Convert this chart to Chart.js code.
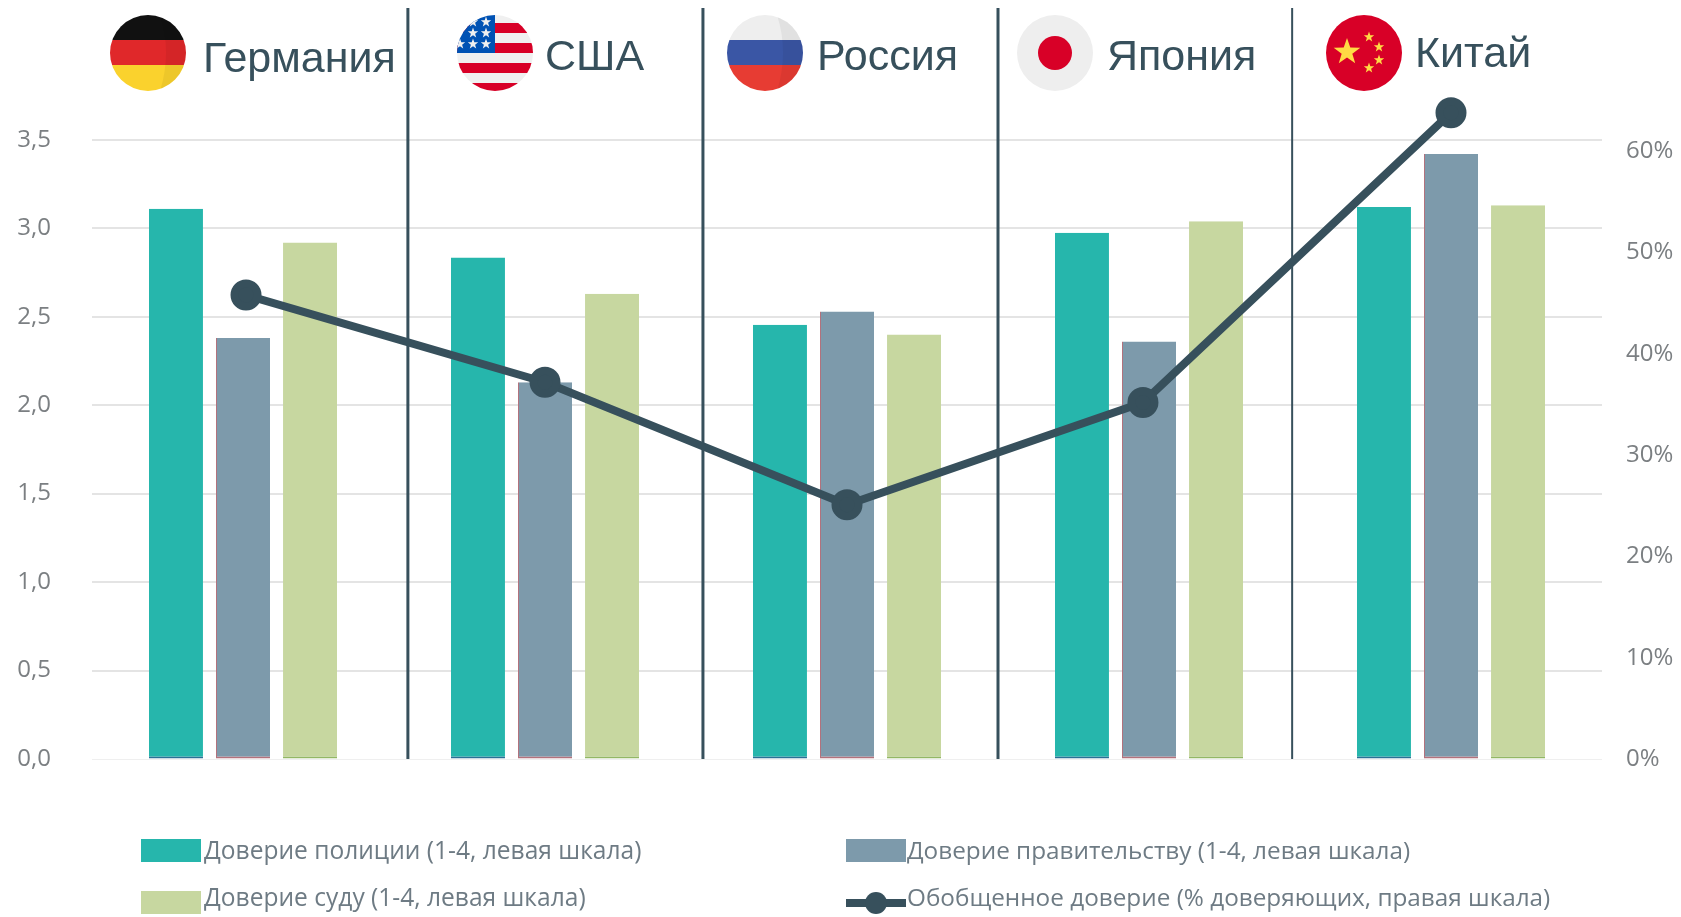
<!DOCTYPE html>
<html lang="ru">
<head>
<meta charset="utf-8">
<title>Доверие</title>
<script src="https://cdn.jsdelivr.net/npm/chart.js@4/dist/chart.umd.min.js"></script>
<style>
  html, body { margin: 0; background: #fff; overflow: hidden; }
  #wrap { position: relative; width: 1681px; height: 917px; }
  #chart { position: absolute; left: 0; top: 0; }
  .flag { position: absolute; top: 15px; width: 76px; height: 76px; }
  .country { position: absolute; font: 43px/48px "Liberation Sans", sans-serif; color: #37505c; white-space: nowrap; }
  .swatch { position: absolute; width: 60px; }
  .legend-text { position: absolute; font: 24.3px/34px "Open Sans", sans-serif; color: #6e7b84; white-space: nowrap; }
</style>
</head>
<body>
<div id="wrap">
  <canvas id="chart" width="1681" height="917"></canvas>
</div>
<script>
var categories = ['Германия', 'США', 'Россия', 'Япония', 'Китай'];
var policeTrust = [3.11, 2.835, 2.455, 2.975, 3.12];
var governmentTrust = [2.38, 2.13, 2.53, 2.36, 3.42];
var courtTrust = [2.92, 2.63, 2.40, 3.04, 3.13];
var generalTrust = [45.8, 37.2, 25.1, 35.2, 63.8];
// the line markers and the dividers do not sit exactly on the category centres
var generalTrustX = [0.01, 1.0, 2.0, 2.98, 4.0];
var dividerX = [0.546, 1.523, 2.5, 3.474];
var dividerWidths = [3, 3, 3, 2];
var dividerTop = 4.245; // in left axis units, the dividers run up past the plot area
var leftTicks = [0, 0.5, 1, 1.5, 2, 2.5, 3, 3.5];
var rightTicks = [0, 10, 20, 30, 40, 50, 60];

var legendLabels = [
  'Доверие полиции (1-4, левая шкала)',
  'Доверие правительству (1-4, левая шкала)',
  'Доверие суду (1-4, левая шкала)',
  'Обобщенное доверие (% доверяющих, правая шкала)'
];

var TEAL = '#26b6ac';
var SLATE = '#7d9aab';
var GREEN = '#c7d7a0';
var DARK = '#37505c';
var TICK = '#7b7f82';

// newer 4.x halves the bar groups when a line sits on a second value axis
Chart.BarController.prototype._getAxisCount = function() { return 1; };

var dividers = {
  id: 'dividers',
  beforeDatasetsDraw: function(chart) {
    var ctx = chart.ctx;
    var scale = chart.scales.xLine;
    var y = chart.scales.y;
    ctx.save();
    ctx.strokeStyle = DARK;
    dividerX.forEach(function(v, i) {
      ctx.lineWidth = dividerWidths[i];
      ctx.beginPath();
      ctx.moveTo(scale.getPixelForValue(v), y.getPixelForValue(dividerTop));
      ctx.lineTo(scale.getPixelForValue(v), y.getPixelForValue(0));
      ctx.stroke();
    });
    ctx.restore();
  }
};

function barSet(label, values, color, edge, leftEdge) {
  return {
    type: 'bar',
    label: label,
    data: values,
    backgroundColor: color,
    borderColor: edge,
    borderWidth: { top: 0, left: leftEdge, right: 0, bottom: 2 },
    borderSkipped: false,
    xAxisID: 'x',
    yAxisID: 'y',
    categoryPercentage: 0.666,
    barPercentage: 0.806,
    order: 2
  };
}

new Chart(document.getElementById('chart').getContext('2d'), {
  data: {
    labels: categories,
    datasets: [
      barSet(legendLabels[0], policeTrust, TEAL, '#2a7096', 0),
      barSet(legendLabels[1], governmentTrust, SLATE, '#b4727c', 1),
      barSet(legendLabels[2], courtTrust, GREEN, '#93b765', 0),
      {
        type: 'line',
        label: legendLabels[3],
        data: generalTrust.map(function(v, i) { return { x: generalTrustX[i], y: v }; }),
        borderColor: DARK,
        backgroundColor: DARK,
        borderWidth: 8,
        pointRadius: 11.5,
        pointHoverRadius: 11.5,
        tension: 0,
        xAxisID: 'xLine',
        yAxisID: 'yRight',
        order: 1
      }
    ]
  },
  options: {
    responsive: false,
    animation: false,
    layout: { padding: { top: 40, bottom: 158 } },
    plugins: { legend: { display: false }, title: { display: false }, tooltip: { enabled: false } },
    scales: {
      x: { display: false, offset: true, grid: { display: false } },
      xLine: { type: 'linear', display: false, min: -0.5, max: 4.5 },
      y: {
        position: 'left',
        min: 0,
        max: 4.0645,
        border: { display: false },
        afterFit: function(scale) { scale.width = 92; },
        afterBuildTicks: function(scale) {
          scale.ticks = leftTicks.map(function(v) { return { value: v }; });
        },
        grid: {
          tickLength: 41,
          tickColor: 'transparent',
          color: function(c) { return c.tick.value === 0 ? '#efefef' : '#e4e4e4'; },
          lineWidth: function(c) { return c.tick.value === 0 ? 1 : 2; }
        },
        ticks: {
          padding: 0,
          color: TICK,
          font: { family: '"Open Sans", sans-serif', size: 24 },
          callback: function(v) { return v.toFixed(1).replace('.', ','); }
        }
      },
      yRight: {
        position: 'right',
        min: 0,
        max: 70.98,
        border: { display: false },
        afterFit: function(scale) { scale.width = 79; },
        afterBuildTicks: function(scale) {
          scale.ticks = rightTicks.map(function(v) { return { value: v }; });
        },
        grid: { drawOnChartArea: false, tickLength: 24, tickColor: 'transparent' },
        ticks: {
          padding: 0,
          color: TICK,
          font: { family: '"Open Sans", sans-serif', size: 24 },
          callback: function(v) { return v + '%'; }
        }
      }
    }
  },
  plugins: [dividers]
});

// flags and country names
function star(cx, cy, r, fill) {
  var pts = [];
  for (var i = 0; i < 10; i++) {
    var a = -Math.PI / 2 + i * Math.PI / 5;
    var d = i % 2 ? r * 0.4 : r;
    pts.push((cx + d * Math.cos(a)).toFixed(2) + ',' + (cy + d * Math.sin(a)).toFixed(2));
  }
  return '<polygon points="' + pts.join(' ') + '" fill="' + fill + '"/>';
}

function rect(y, h, fill) {
  return '<rect x="0" y="' + y + '" width="76" height="' + h + '" fill="' + fill + '"/>';
}

var shade = '<path d="M50 0 C58 25 58 50 50 76 L76 76 L76 0 Z" fill="#000" opacity="0.05"/>';

var usaStars = [[16, 7], [29, 7], [16, 18], [29, 18], [3, 29], [16, 29], [29, 29]];
var chinaStars = [[43, 22], [53, 32], [53, 45], [43, 53]];

var flagArt = [
  rect(0, 25, '#111') + rect(25, 25, '#e0282a') + rect(50, 26, '#fad22d') + shade,
  rect(0, 76, '#f0f0f0') + rect(8, 10, '#d80027') + rect(28, 10, '#d80027') + rect(48, 10, '#d80027') + rect(68, 8, '#d80027') +
    '<rect x="0" y="0" width="38" height="38" fill="#0052b4"/>' +
    usaStars.map(function(s) { return star(s[0], s[1], 5.5, '#f0f0f0'); }).join(''),
  rect(0, 25, '#eeeeee') + rect(25, 25, '#3a56a5') + rect(50, 26, '#e73c33') + shade,
  rect(0, 76, '#eeeeee') + '<circle cx="38" cy="38" r="17" fill="#d80027"/>',
  rect(0, 76, '#d80027') + star(21, 37, 14, '#ffda44') +
    chinaStars.map(function(s) { return star(s[0], s[1], 5.5, '#ffda44'); }).join('')
];
var flagLeft = [110, 457, 727, 1017, 1326];
var nameLeft = [203, 545, 817, 1107, 1415];
var nameTop = [33, 31, 31, 31, 28];

var wrap = document.getElementById('wrap');

function addHtml(html) {
  var holder = document.createElement('div');
  holder.innerHTML = html;
  wrap.appendChild(holder.firstChild);
}

categories.forEach(function(name, i) {
  addHtml('<svg class="flag" style="left:' + flagLeft[i] + 'px" viewBox="0 0 76 76">' +
    '<defs><clipPath id="clip' + i + '"><circle cx="38" cy="38" r="38"/></clipPath></defs>' +
    '<g clip-path="url(#clip' + i + ')">' + flagArt[i] + '</g></svg>');
  addHtml('<div class="country" style="left:' + nameLeft[i] + 'px;top:' + nameTop[i] + 'px">' + name + '</div>');
});

// legend, two columns by two rows
var legendX = [141, 846];
var legendTextX = [204, 907];
var legendFont = [24.55, 24.3];
var legendY = [851, 903];
var legendTextY = [833, 880];
var legendColors = [TEAL, SLATE, GREEN, null];

legendLabels.forEach(function(label, i) {
  var col = i % 2;
  var x = legendX[col];
  var y = legendY[i >> 1];
  if (legendColors[i]) {
    addHtml('<div class="swatch" style="left:' + x + 'px;top:' + (y - 12) + 'px;height:23px;background:' + legendColors[i] + '"></div>');
  } else {
    addHtml('<div class="swatch" style="left:' + x + 'px;top:' + (y - 4) + 'px;height:8px;background:' + DARK + '"></div>');
    addHtml('<div class="swatch" style="left:' + (x + 19) + 'px;top:' + (y - 11) + 'px;width:22px;height:22px;border-radius:50%;background:' + DARK + '"></div>');
  }
  addHtml('<div class="legend-text" style="left:' + legendTextX[col] + 'px;top:' + legendTextY[i >> 1] + 'px;font-size:' + legendFont[col] + 'px">' + label + '</div>');
});
</script>
</body>
</html>
